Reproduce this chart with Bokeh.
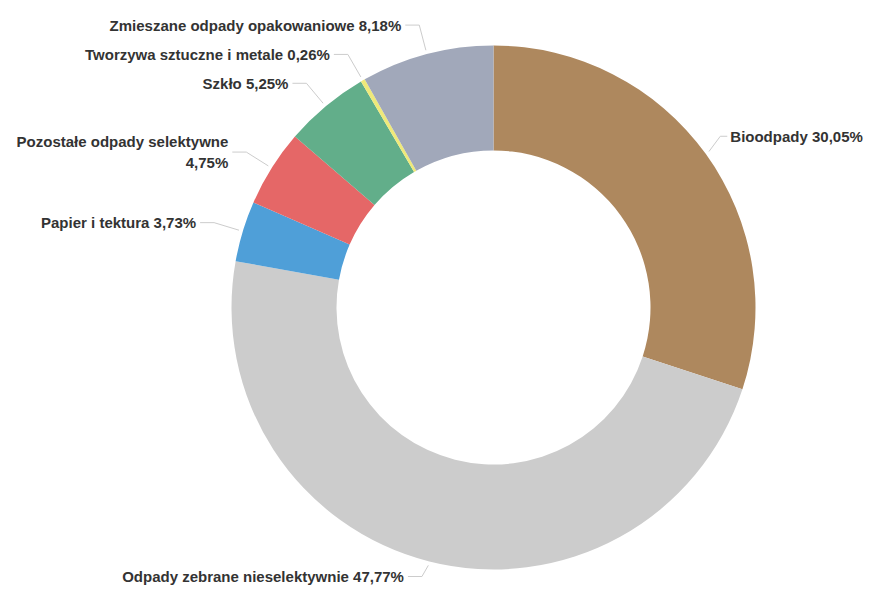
import numpy as np
from bokeh.plotting import figure
from bokeh.models import Range1d, ColumnDataSource
from bokeh.core.properties import value
from bokeh.embed import file_html
from bokeh.resources import INLINE

# ---- data ----
categories = [
    "Bioodpady",
    "Odpady zebrane nieselektywnie",
    "Papier i tektura",
    "Pozostałe odpady selektywne",
    "Szkło",
    "Tworzywa sztuczne i metale",
    "Zmieszane odpady opakowaniowe",
]
shares = [30.05, 47.77, 3.73, 4.75, 5.25, 0.26, 8.18]
colors = ["#AE885E", "#CCCCCC", "#4F9FD8", "#E56767", "#62AE8A", "#EFE97A", "#A1A8BA"]
wrap_label = [False, False, False, True, False, False, False]

# ---- layout ----
W, H = 868, 585
p = figure(width=W, height=H, output_backend="svg", toolbar_location=None,
           x_range=Range1d(0, W), y_range=Range1d(-H, 0),
           x_axis_location=None, y_axis_location=None, min_border=0,
           outline_line_color=None, background_fill_color="white",
           border_fill_color="white")
p.grid.visible = False

cx, cy = 493, -307
R_out, R_in = 262, 157

fr = np.array(shares) / np.sum(shares)
cum = np.concatenate([[0.0], np.cumsum(fr)])
start = np.pi / 2 - 2 * np.pi * cum[:-1]
end = np.pi / 2 - 2 * np.pi * cum[1:]

src = ColumnDataSource(dict(start=start, end=end, color=colors))
p.annular_wedge(x=cx, y=cy, inner_radius=R_in, outer_radius=R_out,
                start_angle="start", end_angle="end", direction="clock",
                fill_color="color", line_color=None, source=src)

# ---- labels and connectors ----
mid = (start + end) / 2
xs, ys = [], []
lx, ly, lt = [], [], []
rx, ry, rt = [], [], []
ymin = -H + 9
for name, v, a, wr in zip(categories, shares, mid, wrap_label):
    c, s = np.cos(a), np.sin(a)
    side = 1 if c >= 0 else -1
    reach_x = 30 if side < 0 else 18
    hlen = 14 if side < 0 else 7
    x0, y0 = cx + (R_out + 4) * c, cy + (R_out + 4) * s
    x1, y1 = cx + (R_out + reach_x) * c, cy + (R_out + 30) * s
    y1 = max(y1, ymin)
    x2 = x1 + side * hlen
    xs.append([x0, x1, x2])
    ys.append([y0, y1, y1])
    txt = f"{v:.2f}".replace(".", ",") + "%"
    label = name + ("\n" if wr else " ") + txt
    if side > 0:
        rx.append(x2 + 3); ry.append(y1); rt.append(label)
    else:
        lx.append(x2 - 4); ly.append(y1); lt.append(label)

p.multi_line(xs=xs, ys=ys, line_color="#CCCCCC", line_width=1)

common = dict(text_baseline="middle", text_font=value("Liberation Sans"),
              text_font_style="bold", text_font_size="15px", text_color="#333333",
              text_line_height=1.2)
p.text(x=lx, y=ly, text=lt, text_align="right", **common)
p.text(x=rx, y=ry, text=rt, text_align="left", **common)

open("out.html", "w").write(file_html(p, INLINE))
